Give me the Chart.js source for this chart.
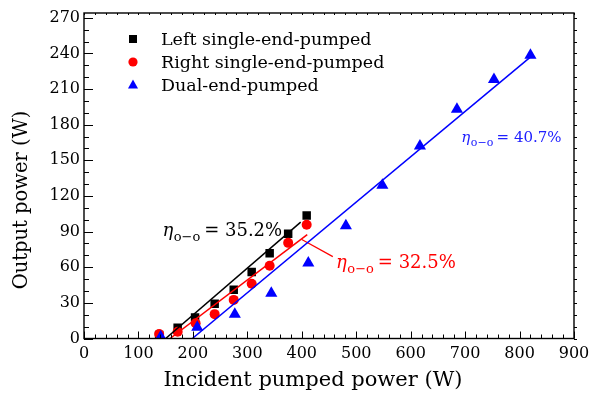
<!DOCTYPE html>
<html>
<head>
<meta charset="utf-8">
<script src="https://cdn.jsdelivr.net/npm/chart.js@4.4.0/dist/chart.umd.min.js"></script>
<style>
  html, body { margin: 0; padding: 0; background: #ffffff; }
  canvas { display: block; }
</style>
</head>
<body>
<canvas id="c" width="590" height="394"></canvas>
<script>
// ---- data ----
const seriesNames = ['Left single-end-pumped', 'Right single-end-pumped', 'Dual-end-pumped'];
const leftX  = [138, 172, 204, 240, 275, 308, 341, 375, 409];
const leftY  = [3, 9, 17.6, 29.2, 41, 56, 71.7, 88.1, 103.5];
const rightX = [138, 172, 205, 240, 275, 308, 341, 375, 409];
const rightY = [3.8, 5.7, 12.8, 20.5, 32.5, 46.1, 61.3, 80.5, 95.7];
const dualX  = [141, 208, 277, 344, 412, 481, 548, 617, 685, 753, 820];
const dualY  = [1.5, 9.5, 20.5, 38, 63.5, 95, 129, 162, 193, 218, 238.5];
const leftFitX  = [150, 398];
const leftFitY  = [0, 98];
const rightFitX = [158, 410];
const rightFitY = [0, 87.5];
const dualFitX  = [199, 822];
const dualFitY  = [0, 237.7];
const leaderX = [400, 457];
const leaderY = [83.3, 68.9];
const effLabels = ['35.2%', '32.5%', '40.7%'];
const xTicks = [0, 100, 200, 300, 400, 500, 600, 700, 800, 900];
const yTicks = [0, 30, 60, 90, 120, 150, 180, 210, 240, 270];
const xTitle = 'Incident pumped power (W)';
const yTitle = 'Output power (W)';

const pts = (xs, ys) => xs.map((x, i) => ({ x: x, y: ys[i] }));
const FONT = '"DejaVu Serif", "Liberation Serif", serif';
const BLUE = '#0000ff', RED = '#ff0000', BLACK = '#000000';

// annotation placement (data coordinates) and styles
const etaAnn = [
  { text: effLabels[0], x: 144, y: 86,   color: BLACK, size: 18 },
  { text: effLabels[1], x: 463, y: 59.6, color: RED,   size: 18 },
  { text: effLabels[2], x: 693, y: 165.3, color: '#2020ff', size: 15 }
];

function drawEta(ctx, x, y, size, color, value) {
  ctx.save();
  ctx.fillStyle = color;
  ctx.textAlign = 'left';
  ctx.textBaseline = 'alphabetic';
  ctx.font = 'italic ' + size + 'px ' + FONT;
  ctx.fillText('η', x, y);
  x += ctx.measureText('η').width + 0.5;
  const sub = Math.round(size * 0.72);
  ctx.font = sub + 'px ' + FONT;
  ctx.fillText('o−o', x, y + size * 0.28);
  x += ctx.measureText('o−o').width + size * 0.22;
  ctx.font = size + 'px ' + FONT;
  ctx.fillText('= ' + value, x, y);
  ctx.restore();
}

function marker(ctx, style, x, y, color) {
  ctx.save();
  ctx.fillStyle = color;
  ctx.beginPath();
  if (style === 'rect') {
    ctx.rect(x - 4, y - 4, 8, 8);
  } else if (style === 'circle') {
    ctx.arc(x, y, 4.6, 0, Math.PI * 2);
  } else {
    ctx.moveTo(x, y - 5.5);
    ctx.lineTo(x + 5, y + 3.5);
    ctx.lineTo(x - 5, y + 3.5);
    ctx.closePath();
  }
  ctx.fill();
  ctx.restore();
}

const decor = {
  id: 'decor',
  afterDraw(chart) {
    const ctx = chart.ctx;
    const xs = chart.scales.x, ys = chart.scales.y;
    const { left, right, top, bottom } = chart.chartArea;
    ctx.save();
    ctx.strokeStyle = BLACK;
    // frame
    ctx.lineWidth = 1.4;
    ctx.strokeRect(left, top, right - left, bottom - top);
    // ticks
    ctx.lineWidth = 1;
    ctx.beginPath();
    for (let v = 0; v <= 900; v += 20) {
      const px = Math.round(xs.getPixelForValue(v)) + 0.5;
      const len = v % 100 === 0 ? 7 : 4;
      ctx.moveTo(px, bottom); ctx.lineTo(px, bottom - len);
      ctx.moveTo(px, top); ctx.lineTo(px, top + 2);
    }
    for (let v = 0; v <= 270; v += 10) {
      const py = Math.round(ys.getPixelForValue(v)) + 0.5;
      const len = v % 30 === 0 ? 9 : 5;
      ctx.moveTo(left, py); ctx.lineTo(left + len, py);
      ctx.moveTo(right, py); ctx.lineTo(right + 3, py);
    }
    ctx.stroke();
    ctx.restore();

    // axis titles
    ctx.save();
    ctx.fillStyle = BLACK;
    ctx.textAlign = 'center';
    ctx.textBaseline = 'middle';
    ctx.font = '21px ' + FONT;
    ctx.fillText(xTitle, 313, 381);
    ctx.font = '19.5px ' + FONT;
    ctx.translate(22, 200);
    ctx.rotate(-Math.PI / 2);
    ctx.fillText(yTitle, 0, 0);
    ctx.restore();

    // legend
    const styles = ['rect', 'circle', 'triangle'];
    const cols = [BLACK, RED, BLUE];
    ctx.save();
    ctx.font = '17.5px ' + FONT;
    ctx.fillStyle = BLACK;
    ctx.textAlign = 'left';
    ctx.textBaseline = 'middle';
    seriesNames.forEach((n, i) => {
      const yy = 39 + i * 23;
      marker(ctx, styles[i], 133, yy, cols[i]);
      ctx.fillStyle = BLACK;
      ctx.fillText(n, 161, yy + 1);
    });
    ctx.restore();

    // efficiency labels
    etaAnn.forEach(a => {
      drawEta(ctx, xs.getPixelForValue(a.x), ys.getPixelForValue(a.y), a.size, a.color, a.text);
    });
  }
};

const lineDs = (xs, ys, color) => ({
  type: 'line', data: pts(xs, ys), borderColor: color, borderWidth: 1.5,
  pointRadius: 0, fill: false, showLine: true, order: 0, tension: 0
});

new Chart(document.getElementById('c'), {
  type: 'scatter',
  data: {
    datasets: [
      { label: seriesNames[0], data: pts(leftX, leftY), pointStyle: 'rect', pointRadius: 6,
        backgroundColor: BLACK, borderColor: BLACK, borderWidth: 0, order: 3 },
      { label: seriesNames[1], data: pts(rightX, rightY), pointStyle: 'circle', pointRadius: 5,
        backgroundColor: RED, borderColor: RED, borderWidth: 0, order: 2 },
      { label: seriesNames[2], data: pts(dualX, dualY), pointStyle: 'triangle', pointRadius: 7,
        backgroundColor: BLUE, borderColor: BLUE, borderWidth: 0, order: 1 },
      lineDs(leftFitX, leftFitY, BLACK),
      lineDs(rightFitX, rightFitY, RED),
      lineDs(dualFitX, dualFitY, BLUE),
      Object.assign(lineDs(leaderX, leaderY, RED), { borderWidth: 1.2 })
    ]
  },
  options: {
    responsive: false,
    animation: false,
    devicePixelRatio: 1,
    layout: { padding: { top: 13, right: 16, left: 0, bottom: 0 } },
    plugins: { legend: { display: false }, tooltip: { enabled: false }, title: { display: false } },
    scales: {
      x: {
        type: 'linear', min: 0, max: 900,
        afterBuildTicks: s => { s.ticks = xTicks.map(v => ({ value: v })); },
        afterFit: s => { s.height = 55.5; s.paddingLeft = 0; s.paddingRight = 0; },
        grid: { display: false, drawTicks: false },
        border: { display: false },
        ticks: { color: BLACK, font: { family: FONT, size: 16 }, padding: 6, maxRotation: 0, autoSkip: false }
      },
      y: {
        type: 'linear', min: 0, max: 274,
        afterBuildTicks: s => { s.ticks = yTicks.map(v => ({ value: v })); },
        afterFit: s => { s.width = 84; s.paddingTop = 0; s.paddingBottom = 0; },
        grid: { display: false, drawTicks: false },
        border: { display: false },
        ticks: { color: BLACK, font: { family: FONT, size: 16 }, padding: 4, autoSkip: false }
      }
    }
  },
  plugins: [decor]
});
</script>
</body>
</html>
